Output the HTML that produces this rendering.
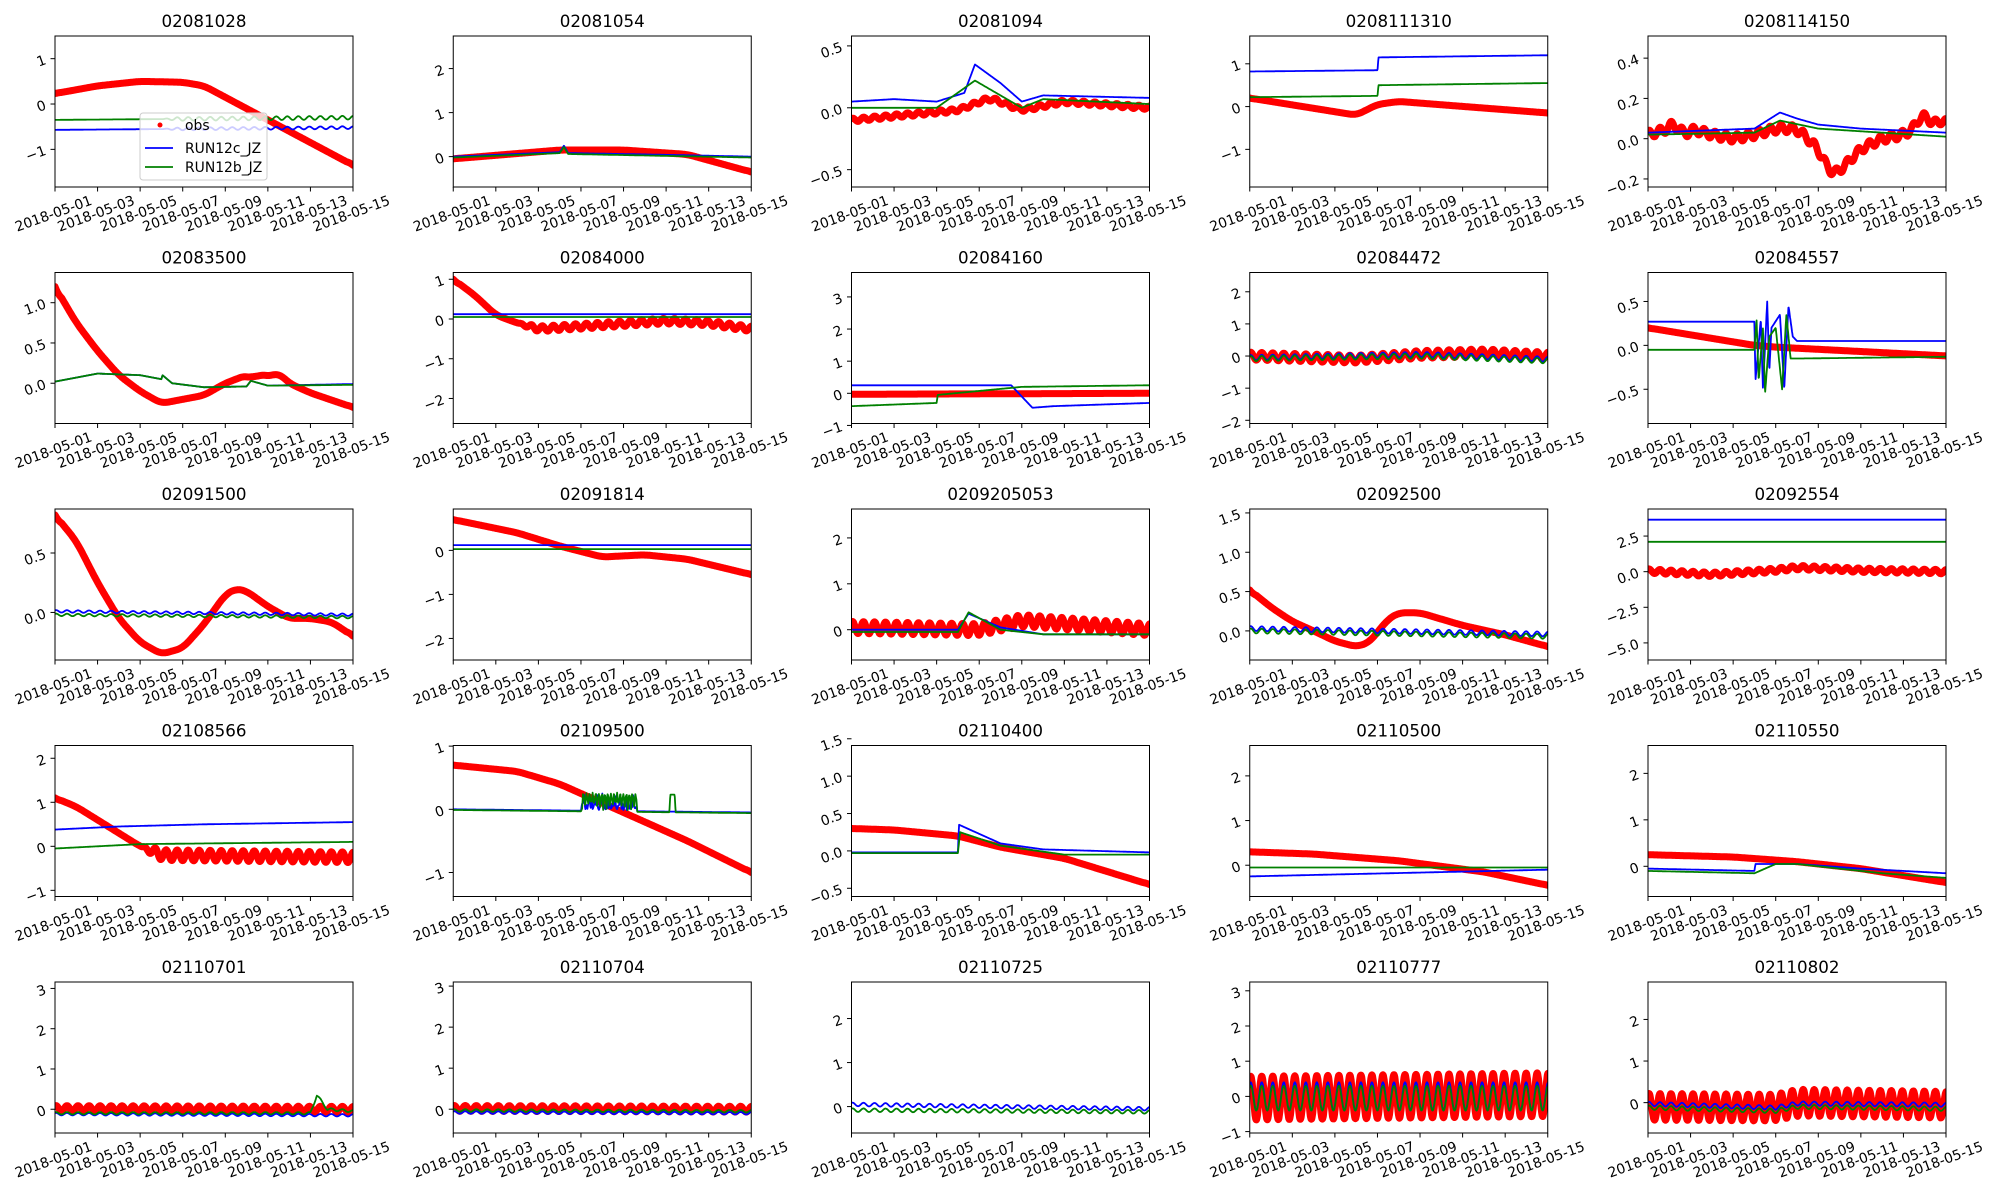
<!DOCTYPE html>
<html><head><meta charset="utf-8">
<style>html,body{margin:0;padding:0;background:#fff;}svg{display:block;}
text{font-family:"DejaVu Sans","Liberation Sans",sans-serif;fill:#000;}</style></head>
<body>
<svg id="s" width="2000" height="1200" xmlns="http://www.w3.org/2000/svg"></svg>
<script>
const P=[
{t:"02081028",y:[-1.83,1.5],yt:[[1,"1"],[0,"0"],[-1,"−1"]],o:[[0,.23],[2,.4],[4,.5],[6,.48],[7,.4],[9,-.1],[11,-.6],[14,-1.35]],b:[[0,-.57],[14,-.52]],g:[[0,-.35],[14,-.3]],bn:[5,.03],gn:[5,.04],leg:1},
{t:"02081054",y:[-.69,2.74],yt:[[2,"2"],[1,"1"],[0,"0"]],o:[[0,-.05],[5,.15],[8,.15],[11,.05],[14,-.35]],b:[[0,0],[5,.1],[5.2,.25],[5.4,.08],[9,.05],[14,0]],g:[[0,-.02],[5,.08],[5.2,.22],[5.4,.06],[14,-.02]]},
{t:"02081094",y:[-.64,.58],yt:[[.5,"0.5"],[0,"0.0"],[-.5,"−0.5"]],o:[[0,-.1],[3,-.05],[5,-.02],[6.5,.08],[8,-.02],[10,.05],[14,0]],on:.015,b:[[0,.05],[2,.07],[4,.05],[5.3,.12],[5.8,.35],[7,.2],[8,.05],[9,.1],[14,.08]],g:[[0,0],[4,0],[5.8,.22],[7,.1],[8,0],[9,.07],[14,.03]]},
{t:"0208111310",y:[-1.88,1.65],yt:[[1,"1"],[0,"0"],[-1,"−1"]],o:[[0,.2],[5,-.2],[6,.05],[7,.12],[14,-.15]],b:[[0,.82],[6,.85],[6.05,1.15],[14,1.2]],g:[[0,.22],[6,.25],[6.05,.5],[14,.55]]},
{t:"0208114150",y:[-.24,.51],yt:[[.4,"0.4"],[.2,"0.2"],[0,"0.0"],[-.2,"−0.2"]],o:[[0,.02],[1,.05],[1.3,.1],[1.6,0],[2,.05],[3,.02],[4,0],[5,.02],[6,.05],[7,.05],[8,-.05],[8.6,-.18],[9,-.16],[10,-.05],[11,0],[12,.02],[12.5,.05],[13,.15],[13.3,.05],[13.7,.1],[14,.08]],on:.02,b:[[0,.03],[5,.05],[6.2,.13],[7,.1],[8,.07],[10,.05],[14,.03]],g:[[0,.02],[5,.03],[6.2,.09],[8,.05],[14,.01]]},
{t:"02083500",y:[-.5,1.375],yt:[[1,"1.0"],[.5,"0.5"],[0,"0.0"]],o:[[0,1.2],[1,.75],[2,.4],[3,.1],[4,-.1],[5,-.25],[6,-.2],[7,-.15],[8,0],[9,.1],[9.3,.05],[9.6,.12],[10,.08],[10.5,.13],[11,0],[12,-.12],[14,-.3]],b:[[0,.02],[2,.12],[4,.1],[5,.05],[5.05,.1],[5.5,0],[7,-.05],[9,-.04],[9.2,.03],[10,-.03],[14,-.01]],g:[[0,.02],[2,.12],[4,.1],[5,.05],[5.05,.1],[5.5,0],[7,-.05],[9,-.04],[9.2,.03],[10,-.03],[14,-.02]]},
{t:"02084000",y:[-2.63,1.17],yt:[[1,"1"],[0,"0"],[-1,"−1"],[-2,"−2"]],o:[[0,1],[1,.6],[2,.1],[3,-.1],[4,-.25],[7,-.15],[10,-.05],[12,-.1],[14,-.25]],on:.07,os:3,b:[[0,.12],[14,.12]],g:[[0,.05],[14,.05]]},
{t:"02084160",y:[-.94,3.76],yt:[[3,"3"],[2,"2"],[1,"1"],[0,"0"],[-1,"−1"]],o:[[0,-.03],[14,0]],b:[[0,.25],[7.5,.25],[8.5,-.45],[9.5,-.4],[14,-.3]],g:[[0,-.4],[4,-.3],[4.05,-.05],[8,.2],[14,.25]]},
{t:"02084472",y:[-2.1,2.6],yt:[[2,"2"],[1,"1"],[0,"0"],[-1,"−1"],[-2,"−2"]],o:[[0,0],[5,-.1],[8,.05],[11,.1],[14,0]],on:.12,b:[[0,-.05],[8,.05],[14,-.1]],bn:[0,.08],g:[[0,-.08],[8,0],[14,-.15]],gn:[0,.08]},
{t:"02084557",y:[-.89,.83],yt:[[.5,"0.5"],[0,"0.0"],[-.5,"−0.5"]],o:[[0,.2],[5,.0],[6,-.02],[14,-.12]],b:[[0,.27],[5,.27],[5.05,-.4],[5.3,.3],[5.4,-.5],[5.6,.5],[5.7,-.3],[5.8,.2],[6.2,.35],[6.4,-.5],[6.6,.45],[6.8,.1],[7,.05],[14,.05]],g:[[0,-.05],[5,-.05],[5.1,.3],[5.2,-.4],[5.4,.2],[5.5,-.55],[5.7,.1],[6,.2],[6.3,-.5],[6.5,.35],[6.7,-.15],[7,-.15],[14,-.13]]},
{t:"02091500",y:[-.4,.87],yt:[[.5,"0.5"],[0,"0.0"]],o:[[0,.82],[1,.6],[2,.25],[3,-.05],[4,-.25],[5,-.35],[6,-.3],[7,-.1],[8,.15],[8.5,.2],[9,.18],[10,.05],[11,-.05],[12,-.05],[13,-.08],[14,-.2]],b:[[0,.01],[14,-.02]],bn:[0,.01],g:[[0,-.02],[14,-.04]],gn:[0,.01]},
{t:"02091814",y:[-2.49,.94],yt:[[0,"0"],[-1,"−1"],[-2,"−2"]],o:[[0,.7],[3,.4],[5,.1],[7,-.15],[9,-.1],[11,-.2],[14,-.55]],b:[[0,.12],[14,.12]],g:[[0,.03],[14,.03]]},
{t:"0209205053",y:[-.66,2.63],yt:[[2,"2"],[1,"1"],[0,"0"]],o:[[0,.05],[6,0],[8,.2],[14,0]],on:.13,b:[[0,0],[5,0],[5.5,.35],[7,.05],[9,-.1],[14,-.1]],g:[[0,-.05],[5,-.05],[5.5,.38],[7,0],[9,-.1],[14,-.1]]},
{t:"02092500",y:[-.37,1.55],yt:[[1.5,"1.5"],[1,"1.0"],[.5,"0.5"],[0,"0.0"]],o:[[0,.52],[1,.3],[2,.12],[3,0],[4,-.13],[5,-.2],[5.6,-.15],[6.5,.15],[7,.23],[8,.23],[9,.15],[10,.07],[12,-.05],[14,-.2]],b:[[0,.03],[14,-.04]],bn:[0,.03],g:[[0,0],[14,-.07]],gn:[0,.03]},
{t:"02092554",y:[-6.2,4.4],yt:[[2.5,"2.5"],[0,"0.0"],[-2.5,"−2.5"],[-5,"−5.0"]],o:[[0,.05],[3,-.2],[6,.1],[7,.3],[10,.1],[14,0]],on:.15,b:[[0,3.65],[14,3.65]],g:[[0,2.1],[14,2.1]]},
{t:"02108566",y:[-1.14,2.29],yt:[[2,"2"],[1,"1"],[0,"0"],[-1,"−1"]],o:[[0,1.1],[1,.9],[2,.6],[3,.3],[4,0],[5,-.2],[14,-.25]],on:.12,os:4,b:[[0,.38],[3,.45],[7,.5],[14,.55]],g:[[0,-.05],[2,0],[4,.05],[14,.1]]},
{t:"02109500",y:[-1.38,1.01],yt:[[1,"1"],[0,"0"],[-1,"−1"]],o:[[0,.7],[3,.6],[5,.4],[7,.1],[9,-.2],[11,-.5],[14,-1]],b:[[0,0],[14,-.05]],g:[[0,-.01],[14,-.06]],sp:1},
{t:"02110400",y:[-.61,1.41],yt:[[1.5,"1.5"],[1,"1.0"],[.5,"0.5"],[0,"0.0"],[-.5,"−0.5"]],o:[[0,.3],[2,.28],[5,.2],[7,.05],[10,-.1],[14,-.45]],b:[[0,-.02],[5,-.02],[5.05,.35],[7,.1],[9,.02],[14,-.02]],g:[[0,-.03],[5,-.03],[5.1,.25],[7,.07],[10,-.05],[14,-.05]]},
{t:"02110500",y:[-.7,2.68],yt:[[2,"2"],[1,"1"],[0,"0"]],o:[[0,.3],[3,.25],[7,.1],[11,-.15],[14,-.45]],b:[[0,-.25],[14,-.1]],g:[[0,-.05],[14,-.05]]},
{t:"02110550",y:[-.65,2.6],yt:[[2,"2"],[1,"1"],[0,"0"]],o:[[0,.25],[4,.2],[7,.1],[10,-.05],[14,-.35]],b:[[0,-.05],[5,-.1],[5.05,.05],[7,.05],[10,-.05],[14,-.15]],g:[[0,-.1],[5,-.15],[6,.05],[7,.05],[9,-.05],[11,-.15],[14,-.25]]},
{t:"02110701",y:[-.59,3.16],yt:[[3,"3"],[2,"2"],[1,"1"],[0,"0"]],o:[[0,.02],[14,0]],on:.07,b:[[0,-.12],[14,-.15]],bn:[0,.03],g:[[0,-.1],[12,-.1],[12.3,.35],[12.8,0],[14,-.05]],gn:[0,.03]},
{t:"02110704",y:[-.58,3.1],yt:[[3,"3"],[2,"2"],[1,"1"],[0,"0"]],o:[[0,.02],[14,0]],on:.07,b:[[0,-.08],[14,-.1]],bn:[0,.03],g:[[0,-.03],[14,-.05]],gn:[0,.03]},
{t:"02110725",y:[-.6,2.83],yt:[[2,"2"],[1,"1"],[0,"0"]],o:null,b:[[0,.05],[14,-.05]],bn:[0,.04],g:[[0,-.08],[14,-.12]],gn:[0,.04]},
{t:"02110777",y:[-1.04,3.25],yt:[[3,"3"],[2,"2"],[1,"1"],[0,"0"],[-1,"−1"]],o:[[0,-.05],[14,.05]],on:.62,b:[[0,0],[14,0]],bn:[0,.4],g:[[0,-.05],[14,-.05]],gn:[0,.35]},
{t:"02110802",y:[-.73,2.9],yt:[[2,"2"],[1,"1"],[0,"0"]],o:[[0,-.1],[6,-.12],[7,0],[14,-.05]],on:.32,b:[[0,-.03],[6,-.12],[7,-.02],[14,-.05]],bn:[0,.05],g:[[0,-.12],[6,-.2],[7,-.1],[14,-.15]],gn:[0,.05]}
];
function interp(k,t){for(let i=1;i<k.length;i++){if(t<=k[i][0]){const a=k[i-1],b=k[i];const f=(t-a[0])/((b[0]-a[0])||1);return a[1]+f*(b[1]-a[1]);}}return k[k.length-1][1];}
const S=document.getElementById('s');let h='';
const W=298,H=151;
P.forEach((p,i)=>{
 const c=i%5,r=Math.floor(i/5);const x0=55+c*398.25,y0=36+r*236.5;
 const X=t=>x0+t/14*W,Y=v=>y0+H-(v-p.y[0])/(p.y[1]-p.y[0])*H;
 h+=`<text x="${x0+W/2}" y="${y0-9}" font-size="16.7" text-anchor="middle">${p.t}</text>`;
 h+=`<clipPath id="c${i}"><rect x="${x0}" y="${y0}" width="${W}" height="${H}"/></clipPath><g clip-path="url(#c${i})">`;
 function path(k,amp,start,col,sw,smooth){const N=900;let vals=[];for(let j=0;j<=N;j++){const t=j/N*14;vals.push(interp(k,t));}
  if(smooth){const w=20;let out=[];for(let j=0;j<=N;j++){let s=0,n=0;for(let q=j-w;q<=j+w;q++){if(q>=0&&q<=N){s+=vals[q];n++;}}out.push(s/n);}
   out[0]=vals[0];for(let j=1;j<w;j++){const f=j/w;out[j]=vals[j]*(1-f)+out[j]*f;}for(let j=N-w+1;j<=N;j++){const f=(N-j)/w;out[j]=vals[j]*(1-f)+out[j]*f;}vals=out;}
  let d='';for(let j=0;j<=N;j++){const t=j/N*14;let v=vals[j];if(amp&&t>=start){const ramp=Math.min(1,(t-start)/0.8+ (start>0?0:1));v+=amp*ramp*Math.sin(2*Math.PI*t/0.5175+1);}d+=(j?'L':'M')+X(t).toFixed(1)+' '+Y(v).toFixed(1);}
  return `<path d="${d}" fill="none" stroke="${col}" stroke-width="${sw}" stroke-linejoin="round" stroke-linecap="round"/>`;}
 if(p.o)h+=path(p.o,p.on||0,p.os||0,'#ff0000',7,true);
 let bA=p.bn?p.bn[1]:0,bS=p.bn?p.bn[0]:0,gA=p.gn?p.gn[1]:0,gS=p.gn?p.gn[0]:0;
 if(p.sp){
  let kb=[],kg=[];for(let t=0;t<=14;t+=0.05){let vb=interp(p.b,t),vg=interp(p.g,t);if(t>6&&t<8.6){const s=Math.sin(t*37)*Math.sin(t*11);vb+=Math.abs(s)*0.28;vg+=Math.abs(Math.sin(t*41))*0.3;}if(t>10.2&&t<10.45){vg+=0.28;}kb.push([t,vb]);kg.push([t,vg]);}
  h+=path(kb,0,0,'#0000ff',1.8,false);h+=path(kg,0,0,'#008000',1.8,false);
 }else{h+=path(p.b,bA,bS,'#0000ff',1.8,false);h+=path(p.g,gA,gS,'#008000',1.8,false);}
 h+='</g>';
 h+=`<rect x="${x0}" y="${y0}" width="${W}" height="${H}" fill="none" stroke="#000" stroke-width="1"/>`;
 for(let k=0;k<8;k++){const tx=X(k*2);h+=`<line x1="${tx}" y1="${y0+H}" x2="${tx}" y2="${y0+H+4.5}" stroke="#000"/>`;
  h+=`<text transform="translate(${tx},${y0+H+31}) rotate(-20)" font-size="13.9" text-anchor="middle">2018-05-${String(1+k*2).padStart(2,'0')}</text>`;}
 p.yt.forEach(([v,l])=>{const ty=Y(v);h+=`<line x1="${x0-4.5}" y1="${ty}" x2="${x0}" y2="${ty}" stroke="#000"/>`;
  h+=`<text transform="translate(${x0-8},${ty+5}) rotate(-20)" font-size="13.9" text-anchor="end">${l}</text>`;});
 if(p.leg){const lx=x0+85,ly=y0+77;
  h+=`<rect x="${lx}" y="${ly}" width="127" height="67" rx="3" fill="#fff" fill-opacity="0.8" stroke="#ccc"/>`;
  h+=`<circle cx="${lx+20}" cy="${ly+12}" r="2.5" fill="#f00"/><text x="${lx+45}" y="${ly+17}" font-size="13.9">obs</text>`;
  h+=`<line x1="${lx+5}" y1="${ly+35}" x2="${lx+33}" y2="${ly+35}" stroke="#00f" stroke-width="1.8"/><text x="${lx+45}" y="${ly+40}" font-size="13.9">RUN12c_JZ</text>`;
  h+=`<line x1="${lx+5}" y1="${ly+54}" x2="${lx+33}" y2="${ly+54}" stroke="#008000" stroke-width="1.8"/><text x="${lx+45}" y="${ly+59}" font-size="13.9">RUN12b_JZ</text>`;}
});
S.innerHTML=h;
</script>
</body></html>
